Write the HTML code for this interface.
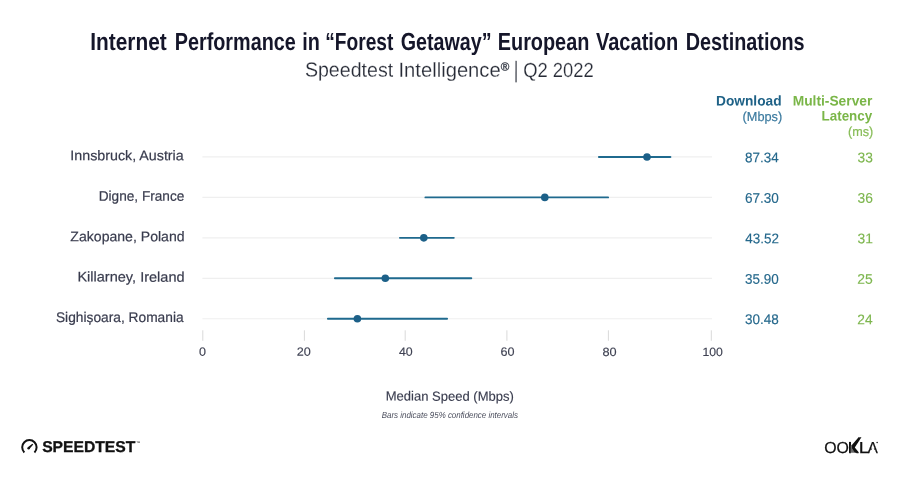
<!DOCTYPE html>
<html lang="en">
<head>
<meta charset="utf-8">
<title>Internet Performance in "Forest Getaway" European Vacation Destinations</title>
<style>
  html, body { margin: 0; padding: 0; background: #ffffff; }
  body { width: 900px; height: 480px; overflow: hidden; }
  svg { display: block; }
  text { font-family: "Liberation Sans", sans-serif; }
  .title { font-size: 24.6px; font-weight: bold; }
  .sub { font-size: 20.3px; }
  .reg { font-size: 11.6px; }
  .bar { font-size: 23.4px; }
  .lab { font-size: 14.0px; }
  .tick { font-size: 12.0px; }
  .dl { font-size: 14.0px; }
  .lat { font-size: 14.0px; }
  .hdl { font-size: 14.0px; font-weight: bold; }
  .hdl2 { font-size: 13.0px; }
  .hlat { font-size: 14.0px; font-weight: bold; }
  .hlat2 { font-size: 13.0px; }
  .axl { font-size: 13.2px; }
  .note { font-size: 8.9px; font-style: italic; }
  .logo { font-size: 15.6px; font-weight: bold; }
  .ookla { font-size: 15.9px; }
  .title { fill: #15162a; }
  .sub   { fill: #272b36; stroke: #ffffff; stroke-width: 0.18px; paint-order: fill; }
  .reg   { fill: #2b303c; stroke: #2b303c; stroke-width: 0.3px; }
  .bar   { stroke-width: 0.6px; }
  .lab   { fill: #383b4d; stroke: #383b4d; stroke-width: 0.2px; }
  .tick  { fill: #3f4253; stroke: #3f4253; stroke-width: 0.15px; }
  .dl    { fill: #25688c; stroke: #25688c; stroke-width: 0.15px; }
  .lat   { fill: #7db64e; stroke: #7db64e; stroke-width: 0.15px; }
  .hdl   { fill: #1e6186; }
  .hdl2  { fill: #3b7a9f; stroke: #3b7a9f; stroke-width: 0.2px; }
  .hlat  { fill: #7ab648; }
  .hlat2 { fill: #88bd58; stroke: #88bd58; stroke-width: 0.2px; }
  .axl   { fill: #3a3d4f; stroke: #3a3d4f; stroke-width: 0.15px; }
  .note  { fill: #4a4d5c; }
  .logo  { fill: #111111; stroke: #111111; stroke-width: 0.3px; }
  .ookla { fill: #111111; stroke: #111111; stroke-width: 0.25px; }
</style>
</head>
<body>
<svg width="900" height="480" viewBox="0 0 900 480" role="img" aria-label="Internet performance chart">
<rect width="900" height="480" fill="#ffffff"/>
<line x1="202.4" x2="712" y1="156.95" y2="156.95" stroke="#efefef" stroke-width="1.2"/>
<line x1="202.4" x2="712" y1="197.4" y2="197.4" stroke="#efefef" stroke-width="1.2"/>
<line x1="202.4" x2="712" y1="237.85" y2="237.85" stroke="#efefef" stroke-width="1.2"/>
<line x1="202.4" x2="712" y1="278.3" y2="278.3" stroke="#efefef" stroke-width="1.2"/>
<line x1="202.4" x2="712" y1="318.75" y2="318.75" stroke="#efefef" stroke-width="1.2"/>
<line x1="598.9" x2="670.4" y1="156.95" y2="156.95" stroke="#1f6a8e" stroke-width="1.9" stroke-linecap="round"/>
<circle cx="647.0" cy="156.95" r="3.8" fill="#1c6088"/>
<line x1="425.4" x2="608.1" y1="197.4" y2="197.4" stroke="#1f6a8e" stroke-width="1.9" stroke-linecap="round"/>
<circle cx="544.8" cy="197.4" r="3.8" fill="#1c6088"/>
<line x1="399.9" x2="453.8" y1="237.85" y2="237.85" stroke="#1f6a8e" stroke-width="1.9" stroke-linecap="round"/>
<circle cx="423.8" cy="237.85" r="3.8" fill="#1c6088"/>
<line x1="334.9" x2="471.3" y1="278.3" y2="278.3" stroke="#1f6a8e" stroke-width="1.9" stroke-linecap="round"/>
<circle cx="385.3" cy="278.3" r="3.8" fill="#1c6088"/>
<line x1="327.9" x2="447.1" y1="318.75" y2="318.75" stroke="#1f6a8e" stroke-width="1.9" stroke-linecap="round"/>
<circle cx="357.4" cy="318.75" r="3.8" fill="#1c6088"/>
<line x1="202.8" x2="202.8" y1="330.3" y2="340.8" stroke="#d9d9d9" stroke-width="1"/>
<line x1="304.4" x2="304.4" y1="330.3" y2="340.8" stroke="#d9d9d9" stroke-width="1"/>
<line x1="405.2" x2="405.2" y1="330.3" y2="340.8" stroke="#d9d9d9" stroke-width="1"/>
<line x1="506.9" x2="506.9" y1="330.3" y2="340.8" stroke="#d9d9d9" stroke-width="1"/>
<line x1="608.4" x2="608.4" y1="330.3" y2="340.8" stroke="#d9d9d9" stroke-width="1"/>
<line x1="711.3" x2="711.3" y1="330.3" y2="340.8" stroke="#d9d9d9" stroke-width="1"/>
<path d="M24.35 452.44 A7.2 7.2 0 1 1 34.45 452.44" fill="none" stroke="#111111" stroke-width="2"/>
<polygon points="29.43,449.06 33.22,444.58 32.38,443.72 27.77,447.34" fill="#111111"/>
<circle cx="28.6" cy="448.2" r="1.2" fill="#111111"/>
<g transform="rotate(0.03 450 240)">
<text class="title" y="50.3"><tspan x="90.21" textLength="76.45" lengthAdjust="spacingAndGlyphs">Internet</tspan> <tspan x="174.68" textLength="121.0" lengthAdjust="spacingAndGlyphs">Performance</tspan> <tspan x="302.22" textLength="17.61" lengthAdjust="spacingAndGlyphs">in</tspan> <tspan x="325.19" textLength="68.04" lengthAdjust="spacingAndGlyphs">“Forest</tspan> <tspan x="400.59" textLength="90.87" lengthAdjust="spacingAndGlyphs">Getaway”</tspan> <tspan x="497.67" textLength="91.56" lengthAdjust="spacingAndGlyphs">European</tspan> <tspan x="595.86" textLength="82.38" lengthAdjust="spacingAndGlyphs">Vacation</tspan> <tspan x="685.68" textLength="118.84" lengthAdjust="spacingAndGlyphs">Destinations</tspan></text>
<text class="sub" y="76.7"><tspan x="304.81" textLength="88.34" lengthAdjust="spacingAndGlyphs">Speedtest</tspan> <tspan x="398.43" textLength="102.16" lengthAdjust="spacingAndGlyphs">Intelligence</tspan><tspan class="reg" x="500.6" y="70.6">®</tspan> <tspan class="bar" x="513" y="77.6">|</tspan> <tspan x="523.13" y="76.7" textLength="70.5" lengthAdjust="spacingAndGlyphs">Q2 2022</tspan></text>
<text class="hdl" x="715.98" y="105.3" textLength="65.52" lengthAdjust="spacingAndGlyphs">Download</text>
<text class="hdl2" x="742.51" y="120.8" textLength="39.58" lengthAdjust="spacingAndGlyphs">(Mbps)</text>
<text class="hlat" x="792.58" y="105.3" textLength="79.73" lengthAdjust="spacingAndGlyphs">Multi-Server</text>
<text class="hlat" x="821.5" y="120.3" textLength="50.67" lengthAdjust="spacingAndGlyphs">Latency</text>
<text class="hlat2" x="848.02" y="135.7" textLength="25.27" lengthAdjust="spacingAndGlyphs">(ms)</text>
<text class="lab" x="70.28" y="160.45" textLength="113.42" lengthAdjust="spacingAndGlyphs">Innsbruck, Austria</text>
<text class="dl" x="745.02" y="162.15" textLength="33.68" lengthAdjust="spacingAndGlyphs">87.34</text>
<text class="lat" x="857.48" y="162.15" textLength="15.33" lengthAdjust="spacingAndGlyphs">33</text>
<text class="lab" x="98.68" y="200.9" textLength="85.62" lengthAdjust="spacingAndGlyphs">Digne, France</text>
<text class="dl" x="744.91" y="202.6" textLength="33.92" lengthAdjust="spacingAndGlyphs">67.30</text>
<text class="lat" x="857.48" y="202.6" textLength="15.33" lengthAdjust="spacingAndGlyphs">36</text>
<text class="lab" x="70.35" y="241.35" textLength="114.25" lengthAdjust="spacingAndGlyphs">Zakopane, Poland</text>
<text class="dl" x="745.29" y="243.05" textLength="33.69" lengthAdjust="spacingAndGlyphs">43.52</text>
<text class="lat" x="857.47" y="243.05" textLength="15.4" lengthAdjust="spacingAndGlyphs">31</text>
<text class="lab" x="77.41" y="281.8" textLength="107.23" lengthAdjust="spacingAndGlyphs">Killarney, Ireland</text>
<text class="dl" x="745.09" y="283.5" textLength="33.74" lengthAdjust="spacingAndGlyphs">35.90</text>
<text class="lat" x="857.3" y="283.5" textLength="15.48" lengthAdjust="spacingAndGlyphs">25</text>
<text class="lab" x="55.98" y="322.25" textLength="127.72" lengthAdjust="spacingAndGlyphs">Sighișoara, Romania</text>
<text class="dl" x="745.09" y="323.95" textLength="33.8" lengthAdjust="spacingAndGlyphs">30.48</text>
<text class="lat" x="857.31" y="323.95" textLength="15.29" lengthAdjust="spacingAndGlyphs">24</text>
<text class="tick" x="199.11" y="355.8" textLength="6.98" lengthAdjust="spacingAndGlyphs">0</text>
<text class="tick" x="296.87" y="355.8" textLength="14.03" lengthAdjust="spacingAndGlyphs">20</text>
<text class="tick" x="399.02" y="355.8" textLength="13.77" lengthAdjust="spacingAndGlyphs">40</text>
<text class="tick" x="500.66" y="355.8" textLength="14.03" lengthAdjust="spacingAndGlyphs">60</text>
<text class="tick" x="602.45" y="355.8" textLength="14.15" lengthAdjust="spacingAndGlyphs">80</text>
<text class="tick" x="702.47" y="355.8" textLength="20.41" lengthAdjust="spacingAndGlyphs">100</text>
<text class="axl" x="385.83" y="400.65" textLength="128.08" lengthAdjust="spacingAndGlyphs">Median Speed (Mbps)</text>
<text class="note" x="381.86" y="418" textLength="136.21" lengthAdjust="spacingAndGlyphs">Bars indicate 95% confidence intervals</text>
<text class="logo" x="42.25" y="452.2" textLength="93.22" lengthAdjust="spacingAndGlyphs">SPEEDTEST</text>
<text x="136.3" y="444.5" font-size="4.2px" font-weight="bold" fill="#111111">™</text>
<text class="ookla" y="452.75"><tspan x="824.25" textLength="24.71" lengthAdjust="spacingAndGlyphs">OO</tspan><tspan x="848.0">K</tspan><tspan x="858.84" textLength="10.6" lengthAdjust="spacingAndGlyphs">L</tspan><tspan x="867.97" textLength="10.06" lengthAdjust="spacingAndGlyphs">A</tspan></text>
</g>
<polygon points="870.5,452.9 875.5,452.9 873.0,446.0" fill="#ffffff"/>
<rect x="849.0" y="441.9" width="1.75" height="10.85" fill="#111111"/>
<polygon points="850.7,445.6 852.2,444.6 852.2,448.8 854.9,452.75 850.7,452.75" fill="#6a6a6a"/>
<polygon points="852.1,444.7 858.8,436.9 859.5,437.6 860.2,436.9 860.8,437.5 861.6,437.0 854.8,447.4 859.1,452.75 854.8,452.75 852.1,448.7" fill="#111111"/>
<circle cx="877.1" cy="442.6" r="0.75" fill="#111111"/>
</svg>
</body>
</html>
